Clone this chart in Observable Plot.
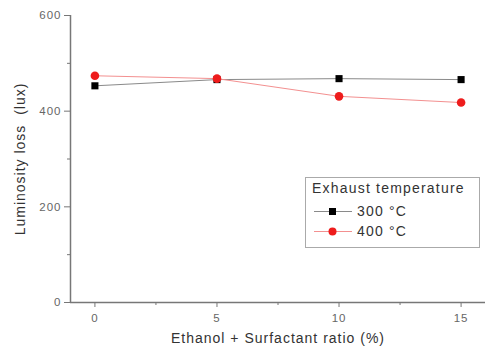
<!DOCTYPE html>
<html>
<head>
<meta charset="utf-8">
<script src="https://cdn.jsdelivr.net/npm/d3@7"></script>
<script src="https://cdn.jsdelivr.net/npm/@observablehq/plot@0.6"></script>
<style>
  body { margin: 0; background: #fff; font-family: "Liberation Sans", Arial, sans-serif; }
  #wrap { position: relative; width: 486px; height: 351px; }
  #legend { position: absolute; left: 305px; top: 177px; width: 175px; height: 71px; border: 1px solid #aaa; background: #fff; font-size: 14px; letter-spacing: 1.2px; color: #333; box-sizing: border-box; }
  #legend .title { position: absolute; left: 6px; top: 2px; }
  #legend .row { position: absolute; left: 8px; display: flex; align-items: center; }
  #legend svg { margin-right: 5px; }
  svg text { letter-spacing: 1px; }
</style>
</head>
<body>
<div id="wrap"></div>
<script>
const ratios = [0, 5, 10, 15];
const lum300 = [453, 466, 468, 466];
const lum400 = [474, 468, 431, 418];
const seriesNames = ["300 °C", "400 °C"];
const seriesColors = ["#000000", "#ee1c1c"];
const lineColors = ["#8a8a8a", "#f39090"];
const yMajor = [0, 200, 400, 600];
const yMinor = [100, 300, 500];
const xMajor = [0, 5, 10, 15];
const xMinor = [2.5, 7.5, 12.5];

const d300 = ratios.map((r, i) => ({x: r, y: lum300[i]}));
const d400 = ratios.map((r, i) => ({x: r, y: lum400[i]}));

const axisColor = "#777";
const chart = Plot.plot({
  width: 486,
  height: 351,
  marginLeft: 70,
  marginRight: 1,
  marginTop: 15,
  marginBottom: 49,
  style: {fontFamily: "Liberation Sans, Arial, sans-serif", fontSize: "11px", color: "#555", background: "#fff"},
  x: {domain: [-1, 16]},
  y: {domain: [0, 600]},
  marks: [
    Plot.ruleX([-1], {stroke: axisColor, strokeWidth: 1.5}),
    Plot.ruleY([0], {stroke: axisColor, strokeWidth: 1.5}),
    Plot.axisY({ticks: yMajor, tickSize: 6, tickPadding: 3, stroke: axisColor, fill: "#666", fontSize: 11.5, label: null}),
    Plot.axisY({ticks: yMinor, tickSize: 3, tickFormat: () => "", stroke: axisColor, label: null}),
    Plot.axisX({ticks: xMajor, tickSize: 5, tickPadding: 6, stroke: axisColor, fill: "#666", fontSize: 11.5, tickRotate: 0, label: null}),
    Plot.axisX({ticks: xMinor, tickSize: 3, tickFormat: () => "", stroke: axisColor, label: null}),
    Plot.line(d300, {x: "x", y: "y", stroke: lineColors[0], strokeWidth: 1}),
    Plot.line(d400, {x: "x", y: "y", stroke: lineColors[1], strokeWidth: 1}),
    Plot.dot(d300, {x: "x", y: "y", symbol: "square", r: 4, fill: seriesColors[0], stroke: null}),
    Plot.dot(d400, {x: "x", y: "y", symbol: "circle", r: 4.3, fill: seriesColors[1], stroke: null}),
    Plot.text(["Ethanol + Surfactant ratio (%)"], {frameAnchor: "bottom", dy: 40, fill: "#333", fontSize: 14}),
    Plot.text(["Luminosity loss  (lux)"], {frameAnchor: "left", textAnchor: "middle", dx: -50, rotate: -90, fill: "#333", fontSize: 14})
  ]
});
const wrap = document.getElementById("wrap");
wrap.appendChild(chart);

const leg = document.createElement("div");
leg.id = "legend";
let html = `<div class="title">Exhaust temperature</div>`;
seriesNames.forEach((n, i) => {
  const marker = i === 0
    ? `<rect x="15" y="4" width="7" height="7" fill="${seriesColors[0]}"/>`
    : `<circle cx="18.5" cy="7.5" r="4" fill="${seriesColors[1]}"/>`;
  html += `<div class="row" style="top:${25 + i * 20}px"><svg width="38" height="15"><line x1="0" x2="38" y1="7.5" y2="7.5" stroke="${lineColors[i]}"/>${marker}</svg><span>${n}</span></div>`;
});
leg.innerHTML = html;
wrap.appendChild(leg);
</script>
</body>
</html>
